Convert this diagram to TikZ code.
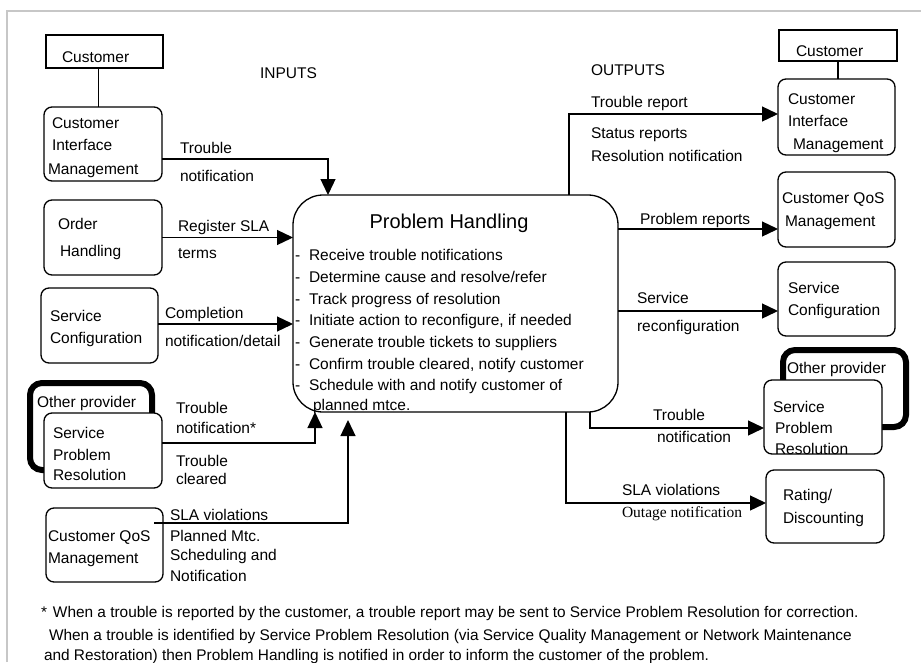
\documentclass[tikz,border=0pt]{standalone}
\usepackage{fontspec}
\setmainfont{Liberation Sans}
\newfontfamily\serifface{Liberation Serif}
\usetikzlibrary{arrows.meta}

\begin{document}
\begin{tikzpicture}[x=1pt,y=-1pt,
  every node/.style={inner sep=0pt, outer sep=0pt},
  lbl/.style={anchor=west, text height=11pt, text depth=3.5pt,
    font=\fontsize{15.5}{20}\selectfont},
  box/.style={draw, line width=1.3pt, rounded corners=8pt, fill=white},
  plainbox/.style={draw, line width=1.3pt, fill=white},
  provider/.style={draw, line width=6pt, rounded corners=12pt},
  conn/.style={line width=1.3pt},
  arr/.style={conn, -{Triangle[length=16pt,width=15pt]}},
  note/.style={anchor=west, text height=10.5pt, text depth=3.5pt,
    font=\fontsize{15.4}{20}\selectfont},
]
\useasboundingbox (0,0) rectangle (921,662);
\clip (0,0) rectangle (921,662);
\fill[white] (0,0) rectangle (921,662);
% page frame
\draw[line width=2pt, black!22] (7,662) -- (7,11) -- (921,11);

% ---------- input side boxes ----------
\node[plainbox, minimum width=117pt, minimum height=33pt] (custL) at (104.5,51.5) {};
\node[box, minimum width=118pt, minimum height=74pt] (cimL) at (103,144) {};
\node[box, minimum width=118pt, minimum height=75pt] (ohL) at (103,237.5) {};
\node[box, minimum width=117pt, minimum height=75pt] (scL) at (99.5,325.5) {};
\node[provider, minimum width=122pt, minimum height=87pt] (opL) at (91,426.5) {};
\node[box, minimum width=118pt, minimum height=75pt] (sprL) at (103,450.5) {};
\node[box, minimum width=117pt, minimum height=74pt] (cqmL) at (104.5,545) {};

% ---------- central process ----------
\node[box, rounded corners=30pt, minimum width=325pt, minimum height=217pt] (ph) at (455.5,303.5) {};

% ---------- output side boxes ----------
\node[plainbox, minimum width=118pt, minimum height=31pt] (custR) at (838,45.5) {};
\node[box, minimum width=117pt, minimum height=76pt] (cimR) at (836.5,117) {};
\node[box, minimum width=117pt, minimum height=75pt] (cqmR) at (836.5,209.5) {};
\node[box, minimum width=117pt, minimum height=74pt] (scR) at (836.5,299) {};
\node[provider, minimum width=123pt, minimum height=77pt] (opR) at (844.5,388.5) {};
\node[box, minimum width=118pt, minimum height=74pt] (sprR) at (823,417) {};
\node[box, minimum width=118pt, minimum height=73pt] (rdR) at (825,506.5) {};

% ---------- connectors, input side ----------
\draw[conn] ([xshift=-6pt]custL.south) -- ([xshift=-6pt]custL.south |- cimL.north);
\draw[arr] ([yshift=-15pt]cimL.east) -| ([xshift=35pt]ph.north west);
\draw[arr] (ohL.east) -- (ohL.east -| ph.west);
\draw[arr] ([yshift=1.5pt]scL.east) -- ([yshift=1.5pt]scL.east -| ph.west);
\draw[arr] ([yshift=7.5pt]sprL.east) -| ([xshift=22pt]ph.south west);
\coordinate (slaEnd) at ([xshift=55pt,yshift=-8pt]ph.south west);
\draw[arr] ([xshift=-9pt,yshift=22pt]cqmL.east) -| (slaEnd);

% ---------- connectors, output side ----------
\draw[conn] (custR.south) -- (custR.south |- cimR.north);
\draw[arr] ([xshift=-49pt]ph.north east) |- ([yshift=3pt]cimR.west);
\draw[arr] ([yshift=74.5pt]ph.east) -- ([yshift=74.5pt]ph.east -| cqmR.west);
\draw[arr] ([yshift=-7.5pt]ph.east) -- ([yshift=-7.5pt]ph.east -| scR.west);
\draw[arr] ([xshift=-28pt]ph.south east) |- ([yshift=-11pt]sprR.west);
\draw[arr] ([xshift=-52pt]ph.south east) |- ([yshift=3.5pt]rdR.west);

% ---------- box texts, input side ----------
\node[lbl] (tCustL) at (62,59) {Customer};
\node[lbl] (tCimL1) at (52,125) {Customer};
\node[lbl] (tCimL2) at (52,147) {Interface};
\node[lbl] (tCimL3) at (48,171) {Management};
\node[lbl] (tOhL1) at (58,226) {Order};
\node[lbl] (tOhL2) at (60,253) {Handling};
\node[lbl] (tScL1) at (50,318) {Service};
\node[lbl] (tScL2) at (50,340) {Configuration};
\node[lbl] (tOpL) at (37,404) {Other provider};
\node[lbl] (tSprL1) at (53,435) {Service};
\node[lbl] (tSprL2) at (53,457) {Problem};
\node[lbl] (tSprL3) at (53,477) {Resolution};
\node[lbl] (tCqmL1) at (48,538) {Customer QoS};
\node[lbl] (tCqmL2) at (48,560) {Management};

% ---------- flow labels, input side ----------
\node[lbl] (inputs) at (260,75) {INPUTS};
\node[lbl] (fTn1) at (180,150) {Trouble};
\node[lbl] (fTn2) at (180,178) {notification};
\node[lbl] (fReg1) at (178,228) {Register SLA};
\node[lbl] (fReg2) at (178,255) {terms};
\node[lbl] (fCmp1) at (165,315) {Completion};
\node[lbl] (fCmp2) at (165,343) {notification/detail};
\node[lbl] (fTs1) at (176,410) {Trouble};
\node[lbl] (fTs2) at (176,430) {notification*};
\node[lbl] (fTc1) at (176,463) {Trouble};
\node[lbl] (fTc2) at (176,481) {cleared};
\node[lbl] (fSla1) at (170,517) {SLA violations};
\node[lbl] (fSla2) at (170,538) {Planned Mtc.};
\node[lbl] (fSla3) at (170,557) {Scheduling and};
\node[lbl] (fSla4) at (170,578) {Notification};

% ---------- central process text ----------
\node[font=\fontsize{20}{24}\selectfont, text height=14pt, text depth=4pt] (phTitle) at (449,223) {Problem Handling};
\foreach \t [count=\i] in {Receive trouble notifications,
    Determine cause and resolve/refer,
    Track progress of resolution,
    {Initiate action to reconfigure, if needed},
    Generate trouble tickets to suppliers,
    {Confirm trouble cleared, notify customer},
    Schedule with and notify customer of}
  \node[lbl] (item\i) at (295,{257+(\i-1)*21.7}) {\makebox[14pt][l]{-}\t};
\node[lbl] (itemTail) at (313,407) {planned mtce.};

% ---------- flow labels, output side ----------
\node[lbl] (outputs) at (591,72) {OUTPUTS};
\node[lbl] (gTr1) at (591,104) {Trouble report};
\node[lbl] (gTr2) at (591,135) {Status reports};
\node[lbl] (gTr3) at (591,158) {Resolution notification};
\node[lbl] (gPr) at (640,221) {Problem reports};
\node[lbl] (gSr1) at (637,300) {Service};
\node[lbl] (gSr2) at (637,328) {reconfiguration};
\node[lbl] (gTn1) at (653,417) {Trouble};
\node[lbl] (gTn2) at (657,439) {notification};
\node[lbl] (gSla1) at (622,492) {SLA violations};
\node[lbl, font=\serifface\fontsize{15.5}{20}\selectfont] (gSla2) at (622,514) {Outage notification};

% ---------- box texts, output side ----------
\node[lbl] (tCustR) at (796,53) {Customer};
\node[lbl] (tCimR1) at (788,101) {Customer};
\node[lbl] (tCimR2) at (788,123) {Interface};
\node[lbl] (tCimR3) at (793,146) {Management};
\node[lbl] (tCqmR1) at (782,200) {Customer QoS};
\node[lbl] (tCqmR2) at (785,223) {Management};
\node[lbl] (tScR1) at (788,290) {Service};
\node[lbl] (tScR2) at (788,312) {Configuration};
\node[lbl] (tOpR) at (787,370) {Other provider};
\node[lbl] (tSprR1) at (773,409) {Service};
\node[lbl] (tSprR2) at (775,430) {Problem};
\node[lbl] (tSprR3) at (775,451) {Resolution};
\node[lbl] (tRdR1) at (783,497) {Rating/};
\node[lbl] (tRdR2) at (783,520) {Discounting};

% ---------- footnote ----------
\node[note] (fn1) at (41,614) {*\hspace{6pt}When a trouble is reported by the customer, a trouble report may be sent to Service Problem Resolution for correction.};
\node[note] (fn2) at (49,637) {When a trouble is identified by Service Problem Resolution (via Service Quality Management or Network Maintenance};
\node[note] (fn3) at (44,657) {and Restoration) then Problem Handling is notified in order to inform the customer of the problem.};
\end{tikzpicture}
\end{document}
